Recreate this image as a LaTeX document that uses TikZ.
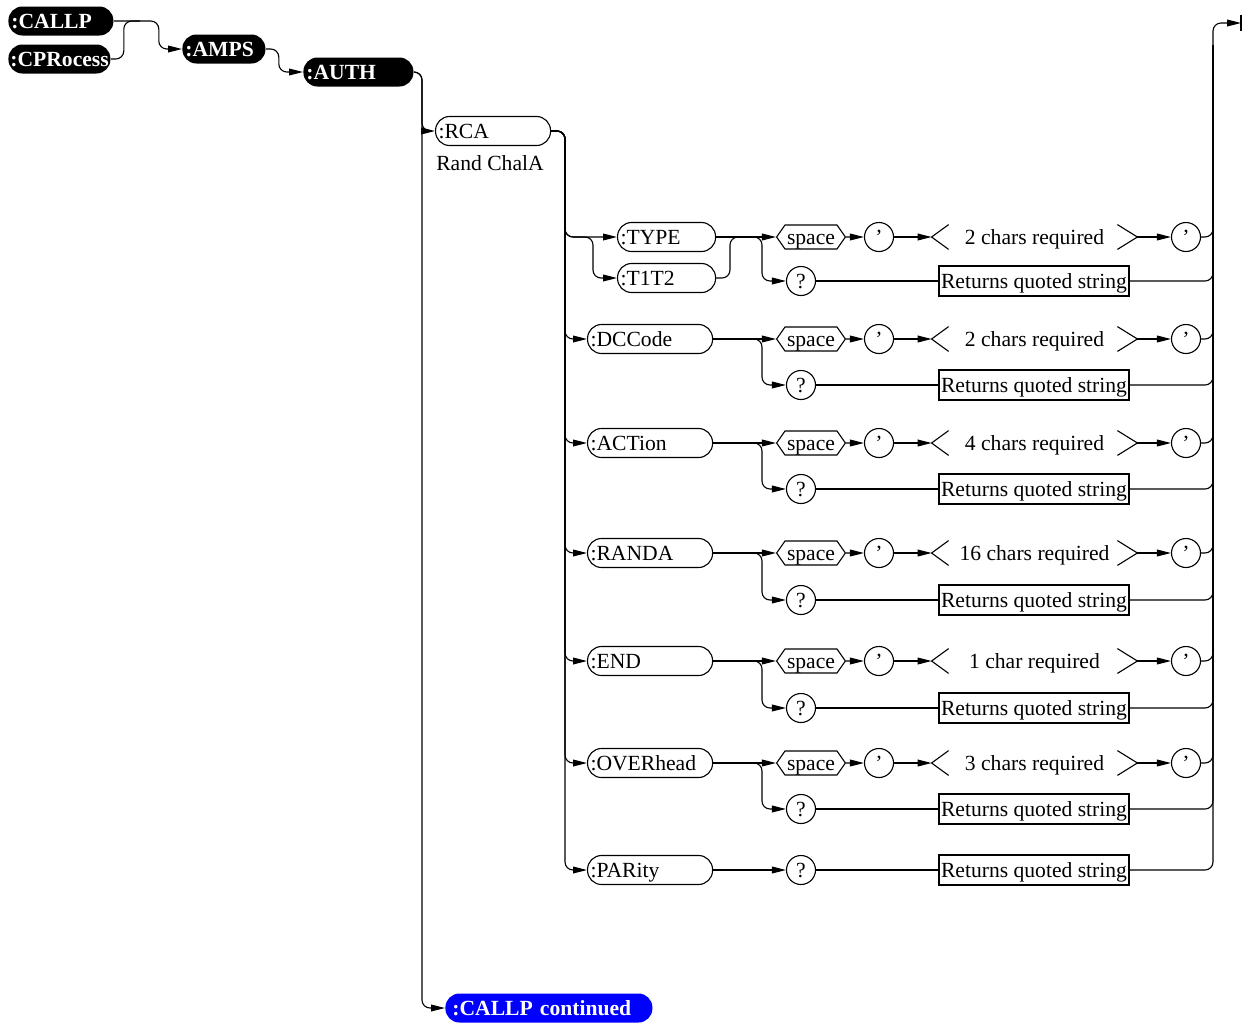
\documentclass[tikz,border=0pt]{standalone}
\usepackage{fontspec}
\setmainfont{Liberation Serif}
\usepackage{xcolor}
\usepackage{tikz}
\usetikzlibrary{arrows.meta, shapes.symbols}
\definecolor{contBlue}{HTML}{0000FF}
\newcommand{\diagfont}{\fontsize{10.8pt}{13pt}\selectfont}

\tikzset{
    conn/.style={line width=0.55pt},
    route/.style={conn, rounded corners=4pt},
    arr/.style={route, -{Triangle[length=7pt, width=3.4pt]}},
    blackNode/.style={fill=black, text=white, font=\diagfont\bfseries, rounded corners=7pt,
        minimum height=14.5pt, inner xsep=1.5pt, inner ysep=0pt, anchor=west, align=left,
        text height=7pt, text depth=0pt},
    cmdNode/.style={draw, line width=0.55pt, rounded corners=7pt, minimum height=14.5pt,
        inner xsep=1.5pt, inner ysep=0pt, anchor=west, align=left,
        text height=7pt, text depth=0pt},
    roundNode/.style={draw, circle, line width=0.55pt, minimum size=14.5pt, inner sep=0pt,
        text height=7pt, text depth=0pt},
    hexNode/.style={draw, signal, signal to=west and east, signal pointer angle=110,
        line width=0.55pt, minimum width=31.5pt, minimum height=12pt, inner xsep=1pt, inner ysep=0pt,
        text height=7pt, text depth=0pt},
    reqNode/.style={minimum width=102.5pt, minimum height=12pt, inner sep=0pt,
        text height=7pt, text depth=0pt},
    retNode/.style={draw, line width=0.55pt, minimum width=95pt, minimum height=15pt, inner sep=1pt,
        text height=7pt, text depth=0pt}
}

\begin{document}
\begin{tikzpicture}[x=0.5pt, y=-0.5pt, nodes={font=\diagfont}]
    \useasboundingbox (0,0) rectangle (1244,1024);
    % top chain
    \node[blackNode, text width=49.5pt] (callp) at (8,21) {:CALLP};
    \node[blackNode, text width=49pt, inner xsep=1pt] (cpro) at (8,59) {:CPRocess};
    \node[blackNode, text width=38.5pt] (amps) at (182,49) {:AMPS};
    \node[blackNode, text width=52pt] (auth) at (303,72) {:AUTH};
    \coordinate (j1) at (140,21);
    \draw[arr] (callp.east) -- ++(45,0) |- (amps.west);
    \draw[route] (cpro.east) -- ++(13,0) |- (j1);
    \draw[arr] (amps.east) -- ++(13,0) |- (auth.west);

    % AUTH subtree
    \node[cmdNode, text width=54.5pt] (rca) at (435,131) {:RCA};
    \node (rcaLabel) at (490,163) {Rand ChalA};
    \node[blackNode, fill=contBlue, text width=96.5pt, inner xsep=3.5pt] (cont) at (445,1008) {:CALLP continued};
    \coordinate (abus) at (422,100);
    \draw[arr] (auth.east) -| (abus) |- (rca.west);
    \draw[arr] (auth.east) -| (abus) |- (cont.west);

    % commands under RCA
    \node[cmdNode, text width=46pt] (c1) at (617,237) {:TYPE};
    \node[cmdNode, text width=46pt] (t1t2) at (617,278) {:T1T2};
    \foreach \i/\cname/\y in {2/:DCCode/339, 3/:ACTion/443, 4/:RANDA/553, 5/:END/661, 6/:OVERhead/763, 7/:PARity/870}
        \node[cmdNode, text width=59.5pt] (c\i) at (587,\y) {\cname};
    \coordinate (cbus) at (565,150);
    \coordinate (tsplit) at (593,237);
    \draw[arr] (rca.east) -| (cbus) |- (c1.west);
    \draw[arr] (rca.east) -| (cbus) |- (tsplit) |- (t1t2.west);
    \foreach \i in {2,...,7}
        \draw[arr] (rca.east) -| (cbus) |- (c\i.west);

    % right bus
    \coordinate (bus) at (1213,23);
    \coordinate (bustop) at (1213,45);
    \coordinate (fin) at (1241,23);

    \foreach \i/\y/\yq/\req in {1/237/281/2 chars required, 2/339/385/2 chars required,
        3/443/489/4 chars required, 4/553/600/16 chars required,
        5/661/708/1 char required, 6/763/809/3 chars required}{
        \node[hexNode] (sp\i) at (811,\y) {space};
        \node[roundNode] (qa\i) at (879,\y) {'};
        \node[reqNode] (rq\i) at (1034.5,\y) {\req};
        \node[roundNode] (qb\i) at (1186,\y) {'};
        \node[roundNode] (qm\i) at (801,\yq) {?};
        \node[retNode] (ret\i) at (1034,\yq) {Returns quoted string};
        \coordinate (split\i) at (762,\y);
        \draw[arr] (c\i.east) -- (sp\i.west);
        \draw[arr] (c\i.east) -- (split\i) |- (qm\i.west);
        \draw[arr] (sp\i) -- (qa\i);
        \draw[arr] (qa\i) -- (rq\i.west);
        \draw[arr] (rq\i.east) -- (qb\i);
        \draw[conn] (qm\i) -- (ret\i);
        \draw[conn] ([xshift=8.5pt]rq\i.north west) -- (rq\i.west) -- ([xshift=8.5pt]rq\i.south west);
        \draw[conn] ([xshift=-10pt]rq\i.north east) -- (rq\i.east) -- ([xshift=-10pt]rq\i.south east);
        \draw[route] (qb\i.east) -| (bustop);
        \draw[route] (ret\i.east) -| (bustop);
    }
    \coordinate (tjoin) at (730,237);
    \draw[route] (t1t2.east) -| (tjoin) -- (split1);

    % PARity row
    \node[roundNode] (qm7) at (801,870) {?};
    \node[retNode] (ret7) at (1034,870) {Returns quoted string};
    \draw[arr] (c7) -- (qm7);
    \draw[conn] (qm7) -- (ret7);
    \draw[arr] (ret7.east) -| (bus) -- (fin);
    \draw[conn] (fin) ++(0,-8) -- ++(0,16);
\end{tikzpicture}
\end{document}
